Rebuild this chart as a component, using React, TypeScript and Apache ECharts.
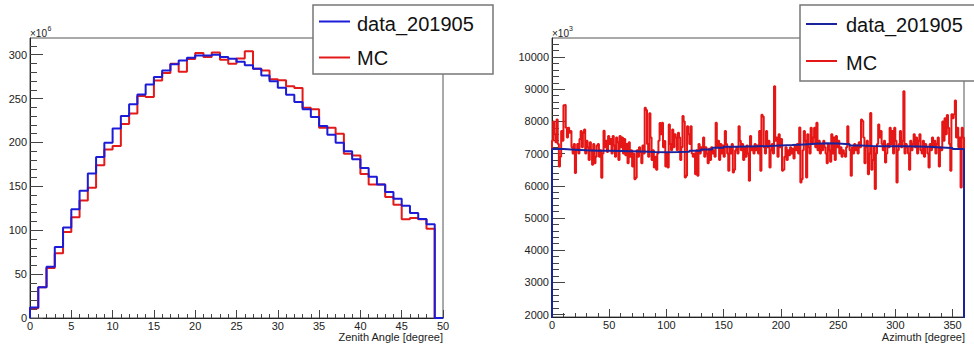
import React, { useEffect, useRef } from "react";
import * as echarts from "echarts";

// ---------- Data ----------
// Zenith angle histogram, 1-degree bins from 0 to 50
const zenithBinEdges = [
  0, 1, 2, 3, 4, 5, 6, 7, 8, 9, 10, 11, 12, 13, 14, 15, 16, 17, 18, 19, 20, 21, 22, 23, 24, 25,
  26, 27, 28, 29, 30, 31, 32, 33, 34, 35, 36, 37, 38, 39, 40, 41, 42, 43, 44, 45, 46, 47, 48, 49, 50,
];
// values in units of 10^6
const zenithData = [
  12.1, 35, 58.5, 81, 103, 124, 145, 164.6, 183.4, 199.7, 216, 230, 243.4, 254.7, 266, 274.5, 282,
  289, 293.5, 296.5, 299, 299, 300, 297.3, 295.3, 292, 288, 284, 276.4, 269.6, 262.3, 254.4, 246,
  237.7, 229, 218.7, 208.8, 199.7, 190, 181, 171, 161, 152, 143.5, 136, 128, 119.6, 112.8, 106.7, 0,
];
const zenithMC = [
  11, 35, 57, 73.7, 98, 114.7, 134, 148.5, 174, 192, 196, 221, 233, 253, 251.7, 270.7, 279, 289.7,
  280.6, 295, 302, 297.3, 302.5, 294.2, 289.7, 295.7, 304, 284, 282, 272, 271, 264, 262, 239.6,
  237.7, 216.8, 216.8, 210, 187, 185, 164, 152, 152, 137.8, 129, 112.4, 114, 112.4, 101.7, 0,
];

// Azimuth histogram; data drawn with 10-degree bins (smooth), MC with 1-degree bins
const azimuthDataEdges = [
  0, 10, 20, 30, 40, 50, 60, 70, 80, 90, 100, 110, 120, 130, 140, 150, 160, 170, 180, 190, 200,
  210, 220, 230, 240, 250, 260, 270, 280, 290, 300, 310, 320, 330, 340, 350, 360,
];
// values in units of 10^3
const azimuthData = [
  7140, 7120, 7100, 7090, 7085, 7080, 7075, 7065, 7050, 7045, 7050, 7060, 7090, 7130, 7180, 7210,
  7220, 7230, 7235, 7250, 7265, 7285, 7305, 7320, 7310, 7290, 7250, 7235, 7230, 7228, 7225, 7218,
  7210, 7190, 7170, 7140,
];
const azimuthMC = [
  7400, 8000, 7600, 7350, 8060, 7300, 6600, 6900, 7700, 7400,
  8500, 8520, 7800, 7500, 7800, 7650, 7700, 7200, 7000, 7300,
  6400, 7100, 7300, 7000, 7450, 7700, 7200, 7650, 7750, 7000,
  7400, 7200, 6800, 7350, 7100, 6650, 7300, 6700, 6900, 7250,
  7300, 6900, 7100, 6250, 7000, 7710, 7200, 7400, 7050, 7550,
  7300, 7450, 7000, 7550, 7250, 6900, 7500, 7350, 6800, 7550,
  7200, 7500, 7000, 7450, 6950, 7300, 6700, 7350, 6900, 7100,
  6600, 7000, 6200, 6250, 7100, 6900, 7200, 7050, 6700, 7250,
  7000, 8420, 8350, 7300, 6900, 8250, 7500, 6800, 7100, 6570,
  6900, 6500, 7000, 7400, 7950, 7600, 7957, 7200, 7390, 6600,
  7000, 6570, 7900, 7300, 7100, 7750, 7200, 7600, 7500, 7100,
  7650, 7500, 6800, 7200, 8164, 8000, 6260, 6310, 7850, 7600,
  7300, 7850, 7000, 6900, 7000, 6360, 7100, 6310, 7300, 7000,
  7200, 7100, 7500, 6900, 7200, 7000, 6700, 7150, 6800, 7200,
  7000, 7100, 6900, 7960, 7200, 7400, 6800, 7300, 7000, 7250,
  6900, 7700, 7300, 7000, 6470, 7200, 7000, 7300, 6410, 6500,
  7100, 7200, 7000, 7850, 7400, 7100, 7300, 6800, 7200, 6900,
  7250, 7000, 6160, 7550, 7100, 7200, 7000, 7300, 7100, 7250,
  7000, 7700, 6470, 8210, 8150, 7200, 7000, 7700, 7200, 7400,
  6570, 7100, 7300, 7000, 9090, 7400, 7500, 6900, 7600, 7200,
  7450, 6470, 6500, 6900, 7200, 6800, 7100, 6950, 7200, 7000,
  7150, 6850, 7250, 7100, 7300, 7000, 7810, 6100, 6200, 7100,
  7700, 7400, 6260, 7600, 7200, 7000, 7800, 7300, 7500, 7800,
  7200, 7960, 7100, 7400, 7000, 7300, 7100, 7400, 7200, 7000,
  6700, 7300, 7100, 6750, 7600, 7000, 7500, 6800, 7550, 7200,
  7400, 7000, 7200, 6900, 7100, 7000, 6900, 7200, 7850, 7300,
  7100, 6310, 7200, 7000, 7300, 7100, 7250, 7000, 7350, 7200,
  8060, 8010, 7500, 6700, 7200, 7400, 6360, 7000, 8260, 6500,
  6800, 7200, 5900, 7000, 7300, 7900, 7500, 7700, 7300, 7100,
  7400, 6720, 7000, 7300, 7200, 7800, 7300, 7700, 7000, 7800,
  7400, 6100, 7100, 7300, 7700, 7200, 7400, 8935, 7000, 7300,
  7200, 7000, 6500, 7400, 7100, 7300, 7600, 7200, 7500, 7000,
  7400, 7600, 7100, 7000, 7400, 6900, 7300, 7200, 7000, 6570,
  7300, 7100, 7500, 7200, 7400, 7000, 7300, 7500, 6600, 7200,
  7100, 8000, 7400, 8100, 7600, 8200, 7800, 7300, 6470, 8220,
  8100, 8220, 8650, 7500, 7800, 7200, 7500, 5950, 7800, 7500,
];

// Tick labels
const zenithXTicks = [0, 5, 10, 15, 20, 25, 30, 35, 40, 45, 50];
const zenithYTicks = [0, 50, 100, 150, 200, 250, 300];
const azimuthXTicks = [0, 50, 100, 150, 200, 250, 300, 350];
const azimuthYTicks = [2000, 3000, 4000, 5000, 6000, 7000, 8000, 9000, 10000];

const seriesNames = ["data_201905", "MC"];

// ---------- helpers ----------
function stepPoints(values: number[], edgesOf: (i: number) => number, base: number) {
  const pts: number[][] = [[edgesOf(0), base]];
  values.forEach((v, i) => {
    pts.push([edgesOf(i), v]);
    pts.push([edgesOf(i + 1), v]);
  });
  pts.push([edgesOf(values.length), base]);
  return pts;
}

function minorList(min: number, max: number, step: number) {
  const out: number[] = [];
  for (let v = min; v <= max + 1e-9; v += step) out.push(Math.round(v * 1000) / 1000);
  return out;
}

const FONT = "'Liberation Sans', Arial, Helvetica, sans-serif";
const AX = "#222";

function majorAxis(kind: "x" | "y", gridIndex: number, min: number, max: number, ticks: number[], len: number) {
  return {
    type: "value",
    gridIndex,
    min,
    max,
    position: kind === "x" ? "bottom" : "left",
    axisLine: { show: true, onZero: false, lineStyle: { color: AX, width: 1 } },
    axisTick: { show: true, inside: true, length: len, customValues: ticks, lineStyle: { color: "#444", width: 1 } },
    axisLabel: {
      show: true,
      customValues: ticks,
      fontSize: 11,
      lineHeight: 11,
      fontFamily: FONT,
      color: "#222",
      margin: kind === "x" ? 2 : 3,
      hideOverlap: false,
      formatter: (v: number) => String(v),
    },
    splitLine: { show: false },
    minorTick: { show: false },
  };
}

function minorAxis(kind: "x" | "y", gridIndex: number, min: number, max: number, ticks: number[], len: number) {
  return {
    type: "value",
    gridIndex,
    min,
    max,
    position: kind === "x" ? "bottom" : "left",
    axisLine: { show: false, onZero: false },
    axisTick: { show: true, inside: true, length: len, customValues: ticks, lineStyle: { color: "#444", width: 1 } },
    axisLabel: { show: false },
    splitLine: { show: false },
  };
}

const L_BLUE = "#1c1cd8";
const L_RED = "#e21a1a";
const R_BLUE = "#1a229c";
const R_RED = "#e51616";

export default function App() {
  const ref = useRef<HTMLDivElement>(null);

  useEffect(() => {
    if (!ref.current) return;
    const chart = echarts.init(ref.current, undefined, { renderer: "svg" });

    const zYMax = 319;
    const aYMin = 1925;
    const aYMax = 10590;

    const option: any = {
      animation: false,
      backgroundColor: "#ffffff",
      grid: [
        { left: 30, top: 38, width: 413, height: 280, show: true, borderColor: "#555", borderWidth: 1, backgroundColor: "transparent" },
        { left: 552, top: 38, width: 412, height: 279, show: true, borderColor: "#555", borderWidth: 1, backgroundColor: "transparent" },
      ],
      xAxis: [
        majorAxis("x", 0, 0, 50, zenithXTicks, 8),
        minorAxis("x", 0, 0, 50, minorList(0, 50, 1), 4),
        majorAxis("x", 1, 0, 360, azimuthXTicks, 8),
        minorAxis("x", 1, 0, 360, minorList(0, 360, 10), 4),
      ],
      yAxis: [
        majorAxis("y", 0, 0, zYMax, zenithYTicks, 13),
        minorAxis("y", 0, 0, zYMax, minorList(0, 310, 10), 7),
        majorAxis("y", 1, aYMin, aYMax, azimuthYTicks, 13),
        minorAxis("y", 1, aYMin, aYMax, minorList(2000, 10400, 200), 7),
      ],
      series: [
        {
          name: seriesNames[1],
          type: "line",
          xAxisIndex: 0,
          yAxisIndex: 0,
          data: stepPoints(zenithMC, (i) => zenithBinEdges[i], 0),
          showSymbol: false,
          symbol: "none",
          clip: true,
          lineStyle: { color: L_RED, width: 2 },
          z: 2,
        },
        {
          name: seriesNames[0],
          type: "line",
          xAxisIndex: 0,
          yAxisIndex: 0,
          data: stepPoints(zenithData, (i) => zenithBinEdges[i], 0),
          showSymbol: false,
          symbol: "none",
          clip: true,
          lineStyle: { color: L_BLUE, width: 2 },
          z: 3,
        },
        {
          name: seriesNames[1],
          type: "line",
          xAxisIndex: 2,
          yAxisIndex: 2,
          data: stepPoints(azimuthMC, (i) => i, 0),
          showSymbol: false,
          symbol: "none",
          clip: true,
          lineStyle: { color: R_RED, width: 2 },
          z: 2,
        },
        {
          name: seriesNames[0],
          type: "line",
          xAxisIndex: 2,
          yAxisIndex: 2,
          data: stepPoints(azimuthData, (i) => azimuthDataEdges[i], 0),
          showSymbol: false,
          symbol: "none",
          clip: true,
          lineStyle: { color: R_BLUE, width: 2 },
          z: 3,
        },
      ],
      graphic: {
        elements: [
          // exponent labels
          { type: "text", x: 30, y: 33, z: 50, style: { text: "×10", fontSize: 10, fontFamily: FONT, fill: "#222", textVerticalAlign: "middle" } },
          { type: "text", x: 47.5, y: 28, z: 50, style: { text: "6", fontSize: 7, fontFamily: FONT, fill: "#222", textVerticalAlign: "middle" } },
          { type: "text", x: 552, y: 33, z: 50, style: { text: "×10", fontSize: 10, fontFamily: FONT, fill: "#222", textVerticalAlign: "middle" } },
          { type: "text", x: 569, y: 28, z: 50, style: { text: "3", fontSize: 7, fontFamily: FONT, fill: "#222", textVerticalAlign: "middle" } },
          // axis titles
          { type: "text", x: 443, y: 337, z: 50, style: { text: "Zenith Angle [degree]", fontSize: 11, fontFamily: FONT, fill: "#222", textAlign: "right", textVerticalAlign: "middle" } },
          { type: "text", x: 965, y: 337, z: 50, style: { text: "Azimuth [degree]", fontSize: 11, fontFamily: FONT, fill: "#222", textAlign: "right", textVerticalAlign: "middle" } },
          // left legend
          { type: "rect", z: 60, shape: { x: 313, y: 5, width: 180, height: 69 }, style: { fill: "#fff", stroke: "#777", lineWidth: 1.5 } },
          { type: "line", z: 61, shape: { x1: 319, y1: 21.5, x2: 350, y2: 21.5 }, style: { stroke: L_BLUE, lineWidth: 2 } },
          { type: "line", z: 61, shape: { x1: 319, y1: 57.5, x2: 350, y2: 57.5 }, style: { stroke: L_RED, lineWidth: 2 } },
          { type: "text", z: 61, x: 357, y: 23.5, style: { text: seriesNames[0], fontSize: 20, fontFamily: FONT, fill: "#111", textVerticalAlign: "middle" } },
          { type: "text", z: 61, x: 357, y: 57.5, style: { text: seriesNames[1], fontSize: 20, fontFamily: FONT, fill: "#111", textVerticalAlign: "middle" } },
          // right legend
          { type: "rect", z: 60, shape: { x: 800, y: 5, width: 190, height: 76 }, style: { fill: "#fff", stroke: "#777", lineWidth: 1.5 } },
          { type: "line", z: 61, shape: { x1: 806, y1: 24, x2: 837, y2: 24 }, style: { stroke: R_BLUE, lineWidth: 2 } },
          { type: "line", z: 61, shape: { x1: 806, y1: 61, x2: 837, y2: 61 }, style: { stroke: R_RED, lineWidth: 2 } },
          { type: "text", z: 61, x: 846, y: 24.5, style: { text: seriesNames[0], fontSize: 20, fontFamily: FONT, fill: "#111", textVerticalAlign: "middle" } },
          { type: "text", z: 61, x: 846, y: 63, style: { text: seriesNames[1], fontSize: 20, fontFamily: FONT, fill: "#111", textVerticalAlign: "middle" } },
        ],
      },
    };

    chart.setOption(option);
    return () => chart.dispose();
  }, []);

  return (
    <div
      ref={ref}
      style={{ position: "fixed", left: 0, top: 0, width: 974, height: 351, background: "#fff" }}
    />
  );
}
